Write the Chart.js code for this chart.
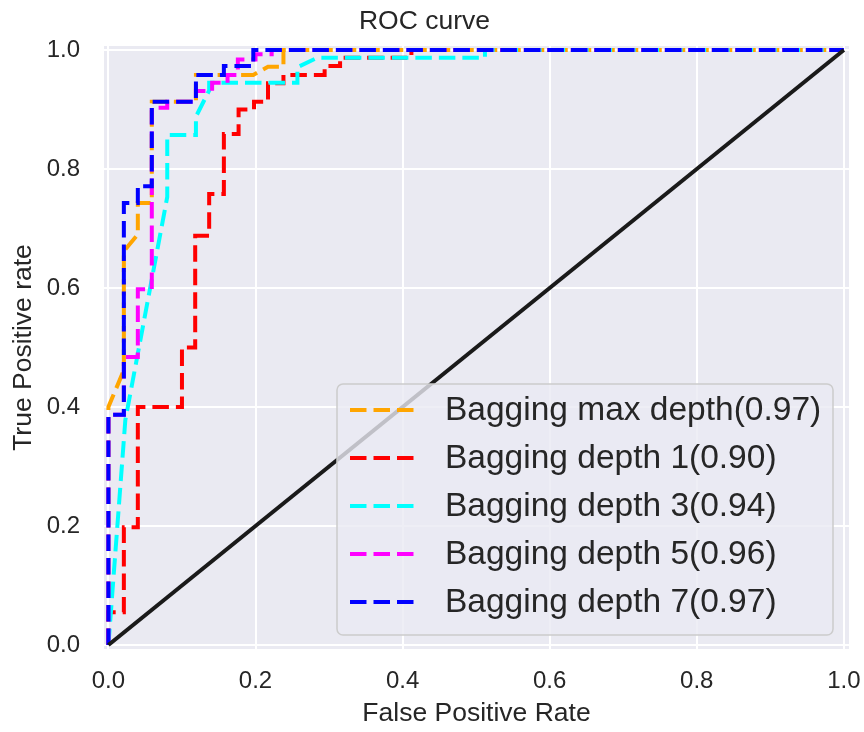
<!DOCTYPE html>
<html>
<head>
<meta charset="utf-8">
<title>ROC curve</title>
<script src="https://cdn.jsdelivr.net/npm/chart.js@4"></script>
<style>
  html, body { margin: 0; padding: 0; background: #ffffff; }
  #wrap { width: 864px; height: 732px; }
</style>
</head>
<body>
<div id="wrap"><canvas id="roc" width="864" height="732"></canvas></div>
<script>
// ROC points (false positive rate / true positive rate) for each bagging model
const fprMaxDepth = [0, 0, 0.021, 0.021, 0.040, 0.040, 0.059, 0.059, 0.119, 0.119, 0.197, 0.217, 0.238, 0.238, 1];
const tprMaxDepth = [0, 0.400, 0.462, 0.662, 0.690, 0.743, 0.743, 0.913, 0.913, 0.958, 0.958, 0.972, 0.972, 1, 1];

const fprDepth1 = [0, 0, 0.021, 0.021, 0.040, 0.040, 0.100, 0.100, 0.118, 0.118, 0.137, 0.137, 0.157, 0.157, 0.177, 0.177, 0.198, 0.198, 0.217, 0.217, 0.238, 0.238, 0.294, 0.294, 0.315, 0.315, 0.412, 0.412, 1];
const tprDepth1 = [0, 0.055, 0.055, 0.198, 0.198, 0.400, 0.400, 0.500, 0.500, 0.688, 0.688, 0.758, 0.758, 0.859, 0.859, 0.900, 0.900, 0.913, 0.913, 0.944, 0.944, 0.958, 0.958, 0.973, 0.973, 0.987, 0.987, 1, 1];

const fprDepth3 = [0, 0.023, 0.080, 0.080, 0.119, 0.119, 0.137, 0.137, 0.257, 0.257, 0.284, 0.512, 0.512, 1];
const tprDepth3 = [0, 0.378, 0.753, 0.857, 0.857, 0.888, 0.932, 0.945, 0.945, 0.971, 0.987, 0.987, 1, 1];

const fprDepth5 = [0, 0, 0.021, 0.021, 0.040, 0.040, 0.059, 0.059, 0.080, 0.080, 0.119, 0.119, 0.141, 0.141, 0.162, 0.162, 0.176, 0.176, 0.200, 0.200, 0.222, 0.222, 1];
const tprDepth5 = [0, 0.387, 0.387, 0.484, 0.484, 0.598, 0.598, 0.903, 0.903, 0.913, 0.913, 0.931, 0.931, 0.945, 0.945, 0.958, 0.958, 0.984, 0.984, 0.993, 0.993, 1, 1];

const fprDepth7 = [0, 0, 0.021, 0.021, 0.040, 0.040, 0.059, 0.059, 0.119, 0.119, 0.157, 0.157, 0.197, 0.197, 1];
const tprDepth7 = [0, 0.387, 0.387, 0.743, 0.743, 0.771, 0.771, 0.913, 0.913, 0.958, 0.958, 0.973, 0.973, 1, 1];

// chance line
const fprChance = [0, 1];
const tprChance = [0, 1];

const seriesLabels = [
  'Bagging max depth(0.97)',
  'Bagging depth 1(0.90)',
  'Bagging depth 3(0.94)',
  'Bagging depth 5(0.96)',
  'Bagging depth 7(0.97)'
];
const tickValues = [0, 0.2, 0.4, 0.6, 0.8, 1.0];

const FONT = "'Liberation Sans', Arial, Helvetica, sans-serif";
const TEXT = '#262626';

const toPoints = (xs, ys) => xs.map((x, i) => ({ x: x, y: ys[i] }));

const curve = (label, xs, ys, color, order) => ({
  label: label,
  data: toPoints(xs, ys),
  borderColor: color,
  backgroundColor: color,
  borderWidth: 4,
  borderDash: [16.5, 7],
  borderCapStyle: 'butt',
  borderJoinStyle: 'miter',
  pointRadius: 0,
  tension: 0,
  fill: false,
  order: order
});

// grey-blue plotting area behind the grid
const areaFill = {
  id: 'areaFill',
  beforeDraw(chart) {
    const { ctx, chartArea: a } = chart;
    ctx.save();
    ctx.fillStyle = '#EAEAF2';
    ctx.fillRect(a.left, a.top, a.right - a.left, a.bottom - a.top);
    ctx.restore();
  }
};

// framed legend in the lower right corner of the plotting area
const innerLegend = {
  id: 'innerLegend',
  afterDraw(chart) {
    const { ctx, chartArea: a } = chart;
    const sets = chart.data.datasets.filter(d => d.label);
    const rowH = 48;
    const boxR = a.right - 16, boxB = a.bottom - 14;
    const boxW = 496, boxH = 251;
    const boxL = boxR - boxW, boxT = boxB - boxH;
    ctx.save();
    ctx.beginPath();
    ctx.roundRect(boxL, boxT, boxW, boxH, 6);
    ctx.fillStyle = 'rgba(234,234,242,0.8)';
    ctx.fill();
    ctx.lineWidth = 1.5;
    ctx.strokeStyle = '#cccccc';
    ctx.stroke();
    ctx.font = '33.5px ' + FONT;
    ctx.textBaseline = 'middle';
    ctx.textAlign = 'left';
    sets.forEach((d, i) => {
      const y = boxT + 26 + i * rowH;
      ctx.beginPath();
      ctx.setLineDash([16.5, 7]);
      ctx.lineWidth = 4;
      ctx.lineCap = 'butt';
      ctx.strokeStyle = d.borderColor;
      ctx.moveTo(boxL + 13, y);
      ctx.lineTo(boxL + 77, y);
      ctx.stroke();
      ctx.setLineDash([]);
      ctx.fillStyle = TEXT;
      ctx.fillText(d.label, boxL + 108, y + 1);
    });
    ctx.restore();
  }
};

new Chart(document.getElementById('roc'), {
  type: 'line',
  data: {
    datasets: [
      curve(seriesLabels[0], fprMaxDepth, tprMaxDepth, '#FFA500', 5),
      curve(seriesLabels[1], fprDepth1, tprDepth1, '#FF0000', 4),
      curve(seriesLabels[2], fprDepth3, tprDepth3, '#00FFFF', 3),
      curve(seriesLabels[3], fprDepth5, tprDepth5, '#FF00FF', 2),
      curve(seriesLabels[4], fprDepth7, tprDepth7, '#0000FF', 1),
      {
        label: '',
        data: toPoints(fprChance, tprChance),
        borderColor: '#1a1a1a',
        borderWidth: 4,
        pointRadius: 0,
        tension: 0,
        fill: false,
        order: 0
      }
    ]
  },
  options: {
    responsive: false,
    devicePixelRatio: 1,
    animation: false,
    layout: { padding: { left: 0, right: 15, top: 0, bottom: 0 } },
    plugins: {
      legend: { display: false },
      tooltip: { enabled: false },
      title: {
        display: true,
        text: 'ROC curve',
        color: TEXT,
        font: { family: FONT, size: 26.5, weight: 'normal' },
        padding: { top: 6, bottom: 8.2 }
      }
    },
    scales: {
      x: {
        type: 'linear',
        position: 'bottom',
        min: -0.006,
        max: 1.007,
        afterBuildTicks: s => { s.ticks = tickValues.map(v => ({ value: v })); },
        afterFit: s => { s.height = 83; s.paddingLeft = 0; s.paddingRight = 0; },
        grid: { color: '#ffffff', lineWidth: 2, drawTicks: false },
        border: { display: false },
        ticks: {
          color: TEXT,
          padding: 18,
          maxRotation: 0,
          font: { family: FONT, size: 24 },
          callback: v => Number(v).toFixed(1)
        },
        title: {
          display: true,
          text: 'False Positive Rate',
          color: TEXT,
          font: { family: FONT, size: 26.5 },
          padding: { top: 0, bottom: 2 }
        }
      },
      y: {
        type: 'linear',
        position: 'left',
        min: -0.0067,
        max: 1.0067,
        afterBuildTicks: s => { s.ticks = tickValues.map(v => ({ value: v })); },
        afterFit: s => { s.width = 104; s.paddingTop = 0; s.paddingBottom = 0; },
        grid: { color: '#ffffff', lineWidth: 2, drawTicks: false },
        border: { display: false },
        ticks: {
          color: TEXT,
          padding: 24,
          font: { family: FONT, size: 24 },
          callback: v => Number(v).toFixed(1)
        },
        title: {
          display: true,
          text: 'True Positive rate',
          color: TEXT,
          font: { family: FONT, size: 26.5 },
          padding: { top: 8, bottom: 0 }
        }
      }
    }
  },
  plugins: [areaFill, innerLegend]
});
</script>
</body>
</html>
